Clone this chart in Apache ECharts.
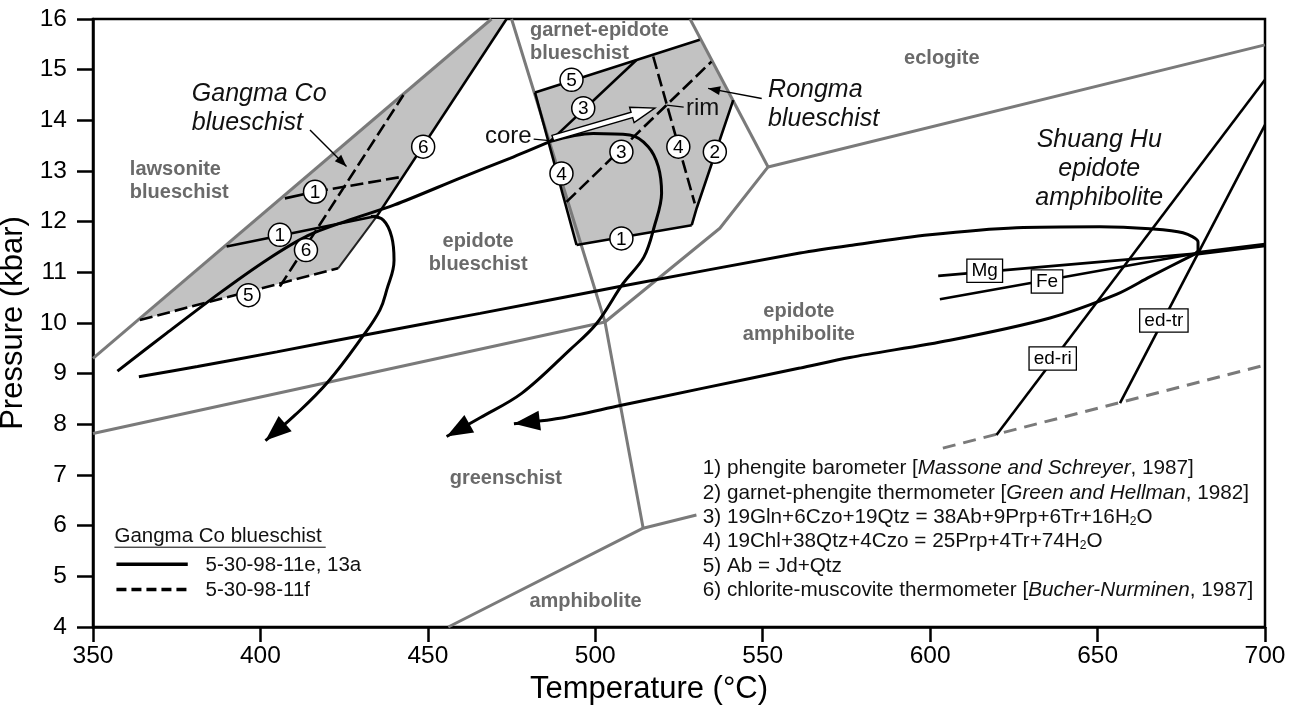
<!DOCTYPE html>
<html><head><meta charset="utf-8">
<script src="https://cdn.jsdelivr.net/npm/echarts@6/dist/echarts.min.js"></script>
<style>html,body{margin:0;padding:0;background:#fff}#c{width:1293px;height:706px}</style>
</head><body><div id="c"></div>
<script>
// ---------------- axes ----------------
const X_MIN = 350, X_MAX = 700, X_STEP = 50;
const Y_MIN = 4, Y_MAX = 16, Y_STEP = 1;

// ---------------- facies boundaries (grey) [T °C, P kbar] ----------------
const lawsoniteUpper = [[350, 9.3], [469, 16]];
const lawsoniteLower = [[350, 7.82], [502.9, 10.02]];
const blueschistGreenschist = [[475.0, 16], [502.9, 10.02], [514.3, 5.95]];
const amphiboliteBoundary = [[456.1, 4], [514.3, 5.95], [530.2, 6.21]];
const garnetEpidoteRight = [[528.3, 16], [551.6, 13.08]];
const eclogiteBoundary = [[551.6, 13.08], [700, 15.49]];
const epAmphBoundary = [[502.9, 10.02], [537.2, 11.87], [551.6, 13.08]];
const greyDashed = [[603.8, 7.53], [700, 9.17]];

// ---------------- Gangma Co ----------------
const gangmaField = [[469, 16], [473.5, 16], [434.7, 12.10], [423.2, 11.08], [364.0, 10.06]];
const gangmaL6 = [[473.5, 16], [434.7, 12.10]];
const gangmaEdge = [[434.7, 12.10], [423.2, 11.08]];
const gangmaL1 = [[389.9, 11.51], [434.7, 12.11]];
const gangmaL1fStart = [[407.3, 12.46], [416.3, 12.59]];
const gangmaL1f = [[416.3, 12.59], [442.7, 12.89]];
const gangmaL6f = [[405.8, 10.72], [442.7, 14.50]];
const gangmaL5f = [[364.0, 10.06], [423.2, 11.08]];
const gangmaPrograde = [[357.3, 9.05], [372, 9.80], [388, 10.60], [402, 11.25], [414, 11.72], [426, 12.02], [440, 12.33], [460, 12.87], [474.5, 13.25], [486.4, 13.58]];
const gangmaRetro = [[433.0, 12.10], [436.7, 12.03], [439.2, 11.70], [439.9, 11.24], [437.7, 10.65], [435.7, 10.26], [430.8, 9.76], [420.2, 8.84], [410.3, 8.18], [401.5, 7.68]];

// ---------------- Rongma ----------------
const rongmaField = [[482.0, 14.55], [531.2, 15.59], [541.2, 14.40], [530.3, 12.27], [528.8, 11.93], [494.4, 11.54]];
const rongmaL5 = [[482.0, 14.55], [531.2, 15.59]];
const rongmaL2 = [[541.2, 14.40], [530.3, 12.27], [528.8, 11.93]];
const rongmaL1 = [[528.8, 11.93], [494.4, 11.54]];
const rongmaL4 = [[494.4, 11.54], [482.0, 14.55]];
const rongmaL3 = [[486.4, 13.58], [512.3, 15.19]];
const rongmaL3d = [[491.4, 12.39], [534.7, 15.16]];
const rongmaL4d = [[517.3, 15.26], [529.7, 12.36]];
const rongmaRetro = [[486.4, 13.58], [499.4, 13.74], [510.3, 13.71], [515.8, 13.48], [518.8, 13.09], [519.8, 12.56], [517.6, 11.9], [514.5, 11.3], [508.3, 10.78], [500.4, 9.99], [492.4, 9.47], [478.0, 8.61], [465.6, 8.13], [455.6, 7.76]];
const coreRim = [[487.3, 13.65], [517.8, 14.24]];

// ---------------- Shuang Hu ----------------
const shuangPrograde = [[363.7, 8.94], [381.2, 9.14], [404.9, 9.43], [430.8, 9.76], [465.6, 10.19], [507.3, 10.72], [561.1, 11.38], [576.0, 11.53], [599.9, 11.74], [625.8, 11.88], [650.7, 11.90], [665.6, 11.86], [675.5, 11.78], [680.0, 11.60], [680.0, 11.44], [679.3, 11.37]];
const shuangRetro = [[679.3, 11.37], [665.6, 10.91], [655.8, 10.57], [635.8, 10.10], [605.9, 9.66], [576.0, 9.32], [561.1, 9.11], [531.2, 8.70], [507.4, 8.37], [489.4, 8.12], [475.7, 8.01]];
const mgLine = [[602.4, 10.93], [679.3, 11.37]];
const feLine = [[602.9, 10.47], [679.3, 11.37]];
const edgeLine = [[679.3, 11.37], [700, 11.54]];
const edRi = [[619.8, 7.79], [700, 14.80]];
const edTr = [[656.7, 8.42], [700, 13.91]];

// ---------------- arrows [fromT, fromP, tipT, tipP] ----------------
const pathArrows = [[410.3, 8.18, 401.5, 7.68], [465.6, 8.13, 455.6, 7.76], [489.4, 8.12, 475.7, 8.01]];
const labelArrows = [[414.8, 13.81, 425.7, 13.09], [549.7, 14.43, 533.7, 14.63]];
const labelArrowLines = [[[414.8, 13.81], [425.7, 13.09]], [[549.7, 14.43], [533.7, 14.63]]];
const tickLines = [[[481.6, 13.63], [486.4, 13.60]], [[521.3, 14.30], [526.4, 14.26]]];

// ---------------- labels ----------------
const faciesLabels = [
  ['lawsonite\nblueschist', 361.0, 12.80, 'left'],
  ['epidote\nblueschist', 465.0, 11.39, 'center'],
  ['garnet-epidote\nblueschist', 480.5, 15.55, 'left'],
  ['eclogite', 603.5, 15.22, 'center'],
  ['epidote\namphibolite', 560.8, 10.0, 'center'],
  ['greenschist', 473.3, 6.94, 'center'],
  ['amphibolite', 497.1, 4.50, 'center']
];
const unitLabels = [
  ['Gangma Co\nblueschist', 379.5, 14.23, 'left'],
  ['Rongma\nblueschist', 551.6, 14.32, 'left'],
  ['Shuang Hu\nepidote\namphibolite', 650.5, 13.04, 'center']
];
const pointLabels = [['core', 481.0, 13.68, 'right'], ['rim', 527.1, 14.24, 'left']];
const circleLabels = [
  ['1', 416.3, 12.59], ['1', 405.8, 11.74], ['6', 413.6, 11.44], ['6', 448.6, 13.48], ['5', 396.4, 10.55],
  ['5', 492.9, 14.80], ['3', 496.4, 14.24], ['4', 489.9, 12.95], ['3', 507.8, 13.38], ['4', 524.8, 13.48], ['2', 535.7, 13.38], ['1', 507.8, 11.67]
];
const boxLabels = [['Mg', 616.3, 11.03], ['Fe', 634.9, 10.82], ['ed-tr', 669.8, 10.05], ['ed-ri', 636.6, 9.30]];
const noteLines = [
  ['1) phengite barometer [{i|Massone and Schreyer}, 1987]', 7.125],
  ['2) garnet-phengite thermometer [{i|Green and Hellman}, 1982]', 6.645],
  ['3) 19Gln+6Czo+19Qtz = 38Ab+9Prp+6Tr+16H{s|2}O', 6.166],
  ['4) 19Chl+38Qtz+4Czo = 25Prp+4Tr+74H{s|2}O', 5.684],
  ['5) Ab = Jd+Qtz', 5.191],
  ['6) chlorite-muscovite thermometer [{i|Bucher-Nurminen}, 1987]', 4.731]
];
const noteX = 532.1;
const legendTitle = ['Gangma Co blueschist', 356.4, 5.78];
const legendUnderline = [[356.4, 5.575], [419.5, 5.575]];
const legendSolid = [[357.0, 5.24], [378.3, 5.24]];
const legendDashed = [[357.0, 4.74], [378.3, 4.74]];
const legendTexts = [['5-30-98-11e, 13a', 383.6, 5.22], ['5-30-98-11f', 383.6, 4.73]];

// ---------------- styles ----------------
const FONT = '"Liberation Sans", Arial, Helvetica, sans-serif';
const GREY = '#7a7a7a', GREY_TEXT = '#6a6a6a', FILL = '#c2c2c2';
const DASH = [13, 5];

function lineS(data, color, width, type, smooth, z) {
  return { type: 'line', data: data, symbol: 'none', showSymbol: false, smooth: smooth || false,
    lineStyle: { color: color, width: width, type: type || 'solid', cap: 'butt' },
    silent: true, animation: false, z: z || 3, clip: false };
}
function polyS(points, fill, z) {
  return { type: 'custom', coordinateSystem: 'cartesian2d', data: points, encode: { x: 0, y: 1 }, silent: true, animation: false, z: z,
    renderItem: function (params, api) {
      if (params.dataIndex !== 0) return null;
      return { type: 'polygon', shape: { points: points.map(function (p) { return api.coord(p); }) }, style: { fill: fill } };
    } };
}
function textS(items, style, z) {
  return { type: 'custom', coordinateSystem: 'cartesian2d', data: items.map(function (it) { return [it[1], it[2]]; }), encode: { x: 0, y: 1 },
    silent: true, animation: false, z: z || 6,
    renderItem: function (params, api) {
      const it = items[params.dataIndex];
      const p = api.coord([it[1], it[2]]);
      return { type: 'text', x: p[0], y: p[1], style: Object.assign({ text: it[0], align: it[3] || 'left', verticalAlign: 'middle' }, style) };
    } };
}
function arrowS(items, len, hw, z) {
  return { type: 'custom', coordinateSystem: 'cartesian2d', data: items, encode: { x: [0, 2], y: [1, 3] }, silent: true, animation: false, z: z || 5,
    renderItem: function (params, api) {
      const a = api.coord([api.value(0), api.value(1)]), b = api.coord([api.value(2), api.value(3)]);
      const ang = Math.atan2(b[1] - a[1], b[0] - a[0]), c = Math.cos(ang), s = Math.sin(ang);
      const bx = b[0] - len * c, by = b[1] - len * s;
      return { type: 'polygon', shape: { points: [b, [bx - hw * s, by + hw * c], [bx + hw * s, by - hw * c]] }, style: { fill: '#000' } };
    } };
}
function hollowArrowS(seg, z) {
  return { type: 'custom', coordinateSystem: 'cartesian2d', data: [[seg[0][0], seg[0][1], seg[1][0], seg[1][1]]], encode: { x: [0, 2], y: [1, 3] }, silent: true, animation: false, z: z,
    renderItem: function (params, api) {
      const a = api.coord([api.value(0), api.value(1)]), b = api.coord([api.value(2), api.value(3)]);
      const ang = Math.atan2(b[1] - a[1], b[0] - a[0]), c = Math.cos(ang), s = Math.sin(ang);
      const L = Math.hypot(b[0] - a[0], b[1] - a[1]);
      const hl = 24, hw = 8, sw = 2.8;
      const loc = [[0, -sw], [L - hl, -sw], [L - hl, -hw], [L, 0], [L - hl, hw], [L - hl, sw], [0, sw]];
      const pts = loc.map(function (q) { return [a[0] + q[0] * c - q[1] * s, a[1] + q[0] * s + q[1] * c]; });
      return { type: 'polygon', shape: { points: pts }, style: { fill: '#fff', stroke: '#000', lineWidth: 1.4 } };
    } };
}
function circleS(items, z) {
  return { type: 'custom', coordinateSystem: 'cartesian2d', data: items.map(function (it) { return [it[1], it[2]]; }), encode: { x: 0, y: 1 }, silent: true, animation: false, z: z,
    renderItem: function (params, api) {
      const it = items[params.dataIndex];
      const p = api.coord([it[1], it[2]]);
      return { type: 'group', children: [
        { type: 'circle', shape: { cx: p[0], cy: p[1], r: 11.5 }, style: { fill: '#fff', stroke: '#000', lineWidth: 1.5 } },
        { type: 'text', x: p[0], y: p[1] + 1, style: { text: it[0], font: '19px ' + FONT, fill: '#000', align: 'center', verticalAlign: 'middle' } }
      ] };
    } };
}
function boxS(items, z) {
  return { type: 'custom', coordinateSystem: 'cartesian2d', data: items.map(function (it) { return [it[1], it[2]]; }), encode: { x: 0, y: 1 }, silent: true, animation: false, z: z,
    renderItem: function (params, api) {
      const it = items[params.dataIndex];
      const p = api.coord([it[1], it[2]]);
      return { type: 'text', x: p[0], y: p[1], style: { text: it[0], font: '19px ' + FONT, fill: '#000', align: 'center', verticalAlign: 'middle',
        backgroundColor: '#fff', borderColor: '#000', borderWidth: 1.3, padding: [2, 4, 1, 4] } };
    } };
}

const series = [
  polyS(gangmaField, FILL, 1),
  polyS(rongmaField, FILL, 1),
  lineS(lawsoniteUpper, GREY, 3, 'solid', false, 2),
  lineS(lawsoniteLower, GREY, 3, 'solid', false, 2),
  lineS(blueschistGreenschist, GREY, 3, 'solid', false, 2),
  lineS(amphiboliteBoundary, GREY, 3, 'solid', false, 2),
  lineS(garnetEpidoteRight, GREY, 3, 'solid', false, 2),
  lineS(eclogiteBoundary, GREY, 3, 'solid', false, 2),
  lineS(epAmphBoundary, GREY, 3, 'solid', false, 2),
  lineS(greyDashed, GREY, 3, [13, 8], false, 2),

  lineS(gangmaL6, '#000', 2.6),
  lineS(gangmaEdge, '#222', 2),
  lineS(gangmaL1, '#000', 2.6),
  lineS(gangmaL1fStart, '#000', 2.6),
  lineS(gangmaL1f, '#000', 2.6, DASH),
  lineS(gangmaL6f, '#000', 2.6, DASH),
  lineS(gangmaL5f, '#000', 2.6, DASH),
  lineS(gangmaPrograde, '#000', 3, 'solid', 0.3),
  lineS(gangmaRetro, '#000', 3, 'solid', 0.4),

  lineS(rongmaL5, '#000', 2.6),
  lineS(rongmaL2, '#000', 2.6),
  lineS(rongmaL1, '#000', 2.6),
  lineS(rongmaL4, '#000', 2.6),
  lineS(rongmaL3, '#000', 2.6),
  lineS(rongmaL3d, '#000', 2.6, DASH),
  lineS(rongmaL4d, '#000', 2.6, DASH),
  lineS(rongmaRetro, '#000', 3, 'solid', 0.35),

  lineS(shuangPrograde, '#000', 3, 'solid', 0.3),
  lineS(shuangRetro, '#000', 3, 'solid', 0.3),
  lineS(mgLine, '#000', 2.6),
  lineS(feLine, '#000', 2.6),
  lineS(edgeLine, '#000', 4.5),
  lineS(edRi, '#000', 2.6),
  lineS(edTr, '#000', 2.6),

  lineS(labelArrowLines[0], '#000', 1.4),
  lineS(labelArrowLines[1], '#000', 1.4),
  lineS(tickLines[0], '#000', 1.4),
  lineS(tickLines[1], '#000', 1.4),
  arrowS(pathArrows, 26, 10, 5),
  arrowS(labelArrows, 12, 4.5, 5),
  hollowArrowS(coreRim, 7),

  lineS(legendSolid, '#000', 3.5),
  lineS(legendDashed, '#000', 3.5, [10, 5]),
  lineS(legendUnderline, '#000', 1),

  textS(faciesLabels, { font: 'bold 20px ' + FONT, fill: GREY_TEXT, lineHeight: 23 }, 6),
  textS(unitLabels, { font: 'italic 25px ' + FONT, fill: '#111', lineHeight: 29 }, 6),
  textS(pointLabels, { font: '24px ' + FONT, fill: '#111' }, 6),
  textS(noteLines.map(function (n) { return [n[0], noteX, n[1], 'left']; }), { font: '20.7px ' + FONT, fill: '#111',
    rich: { i: { fontStyle: 'italic', fontSize: 20.7, fontFamily: FONT, fill: '#111' }, s: { fontSize: 12, fontFamily: FONT, fill: '#111', padding: [9, 0, 0, 0] } } }, 6),
  textS([legendTitle].concat(legendTexts), { font: '20.5px ' + FONT, fill: '#111' }, 6),
  circleS(circleLabels, 8),
  boxS(boxLabels, 8)
];

const chart = echarts.init(document.getElementById('c'), null, { renderer: 'canvas' });
chart.setOption({
  animation: false,
  backgroundColor: '#fff',
  grid: { left: 93, right: 28, top: 19, bottom: 79, containLabel: false, outerBoundsMode: 'none',
    show: true, borderColor: '#000', borderWidth: 2.5, backgroundColor: 'transparent' },
  xAxis: { type: 'value', min: X_MIN, max: X_MAX, interval: X_STEP,
    name: 'Temperature (°C)', nameLocation: 'middle', nameGap: 44,
    nameTextStyle: { fontSize: 31, color: '#000', fontFamily: FONT, padding: [0, 60, 0, 0] },
    axisLine: { lineStyle: { color: '#000', width: 2.5 } },
    axisTick: { show: true, inside: false, length: 15, lineStyle: { color: '#000', width: 2.5 } },
    axisLabel: { fontSize: 24.5, color: '#000', fontFamily: FONT, margin: 17 },
    splitLine: { show: false } },
  yAxis: { type: 'value', min: Y_MIN, max: Y_MAX, interval: Y_STEP,
    name: 'Pressure (kbar)', nameLocation: 'middle', nameGap: 52,
    nameTextStyle: { fontSize: 31, color: '#000', fontFamily: FONT },
    axisLine: { lineStyle: { color: '#000', width: 2.5 } },
    axisTick: { show: true, inside: false, length: 16, lineStyle: { color: '#000', width: 2.5 } },
    axisLabel: { fontSize: 24.5, color: '#000', fontFamily: FONT, margin: 26 },
    splitLine: { show: false } },
  series: series
});
</script></body></html>
